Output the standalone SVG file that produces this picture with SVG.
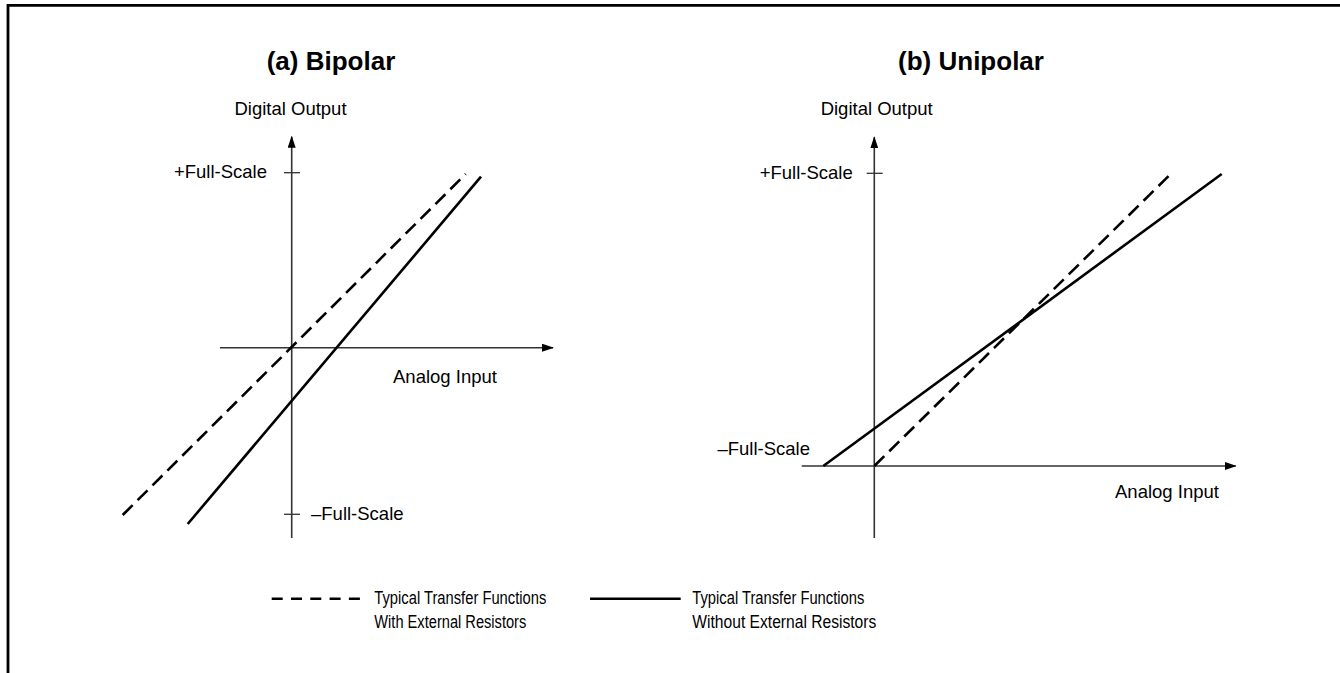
<svg xmlns="http://www.w3.org/2000/svg" width="1340" height="673" viewBox="0 0 1340 673">
<style>
text{font-family:"Liberation Sans",Arial,sans-serif;fill:#000}
.t{font-size:26px;font-weight:bold;text-anchor:middle}
.l{font-size:18.5px}
.g{font-size:17.5px}
.ax{stroke:#333;stroke-width:1.6;fill:none}
.tk{stroke:#333;stroke-width:1.3;fill:none}
.sol{stroke:#000;stroke-width:2.6;fill:none}
.dsh{stroke:#000;stroke-width:2.6;fill:none;stroke-dasharray:14 7}
</style>
<defs>
<marker id="ah" markerWidth="12" markerHeight="8" refX="11" refY="4" orient="auto" markerUnits="userSpaceOnUse">
<path d="M0,0 L12,4 L0,8 Z" fill="#000"/>
</marker>
</defs>
<rect width="1340" height="673" fill="#fff"/>
<path d="M8,673 V5.3 H1340" fill="none" stroke="#000" stroke-width="2.8"/>

<g id="bipolar">
<text class="t" x="331" y="70">(a) Bipolar</text>
<text class="l" x="290.5" y="115" text-anchor="middle">Digital Output</text>
<text class="l" x="267" y="178" text-anchor="end">+Full-Scale</text>
<text class="l" x="311" y="520">–Full-Scale</text>
<text class="l" x="393" y="383">Analog Input</text>
<line class="ax" x1="291.7" y1="538" x2="291.7" y2="136.7" marker-end="url(#ah)"/>
<line class="ax" x1="220" y1="347.7" x2="553" y2="347.7" marker-end="url(#ah)"/>
<line class="tk" x1="284" y1="172.7" x2="300" y2="172.7"/>
<line class="tk" x1="284" y1="514.3" x2="300" y2="514.3"/>
</g>

<g id="unipolar">
<text class="t" x="971" y="70">(b) Unipolar</text>
<text class="l" x="876.7" y="115" text-anchor="middle">Digital Output</text>
<text class="l" x="852.7" y="179" text-anchor="end">+Full-Scale</text>
<text class="l" x="810" y="455" text-anchor="end">–Full-Scale</text>
<text class="l" x="1115" y="498">Analog Input</text>
<line class="ax" x1="874.3" y1="538" x2="874.3" y2="137.3" marker-end="url(#ah)"/>
<line class="ax" x1="801.7" y1="466" x2="1235.7" y2="466" marker-end="url(#ah)"/>
<line class="tk" x1="866.7" y1="173.3" x2="882.7" y2="173.3"/>
</g>

<g id="connectors">
<line class="dsh" x1="122.7" y1="515" x2="465.7" y2="174"/>
<line class="sol" x1="187.7" y1="524" x2="481" y2="176.7"/>
<line class="dsh" x1="874.3" y1="466" x2="1170.7" y2="174"/>
<line class="sol" x1="823.3" y1="466" x2="1221.7" y2="174"/>
</g>

<g id="legend">
<line class="dsh" x1="271.7" y1="598.7" x2="360" y2="598.7" style="stroke-dasharray:11 8.3"/>
<text class="g" x="374.3" y="604" textLength="172" lengthAdjust="spacingAndGlyphs">Typical Transfer Functions</text>
<text class="g" x="374.3" y="628" textLength="152" lengthAdjust="spacingAndGlyphs">With External Resistors</text>
<line class="sol" x1="590" y1="598.7" x2="680.7" y2="598.7"/>
<text class="g" x="692.3" y="604" textLength="172" lengthAdjust="spacingAndGlyphs">Typical Transfer Functions</text>
<text class="g" x="692.3" y="628" textLength="184" lengthAdjust="spacingAndGlyphs">Without External Resistors</text>
</g>
</svg>
